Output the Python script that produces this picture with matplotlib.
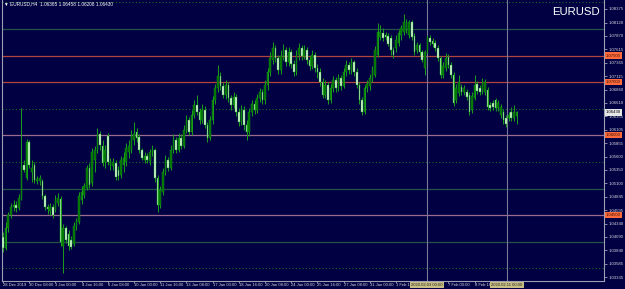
import matplotlib
matplotlib.use("Agg")
import matplotlib.pyplot as plt
import matplotlib.transforms as mtransforms

plt.rcParams['font.family'] = ['Liberation Sans', 'DejaVu Sans']

# EURUSD H4 bars
opens = [
    1.0408, 1.0388, 1.0425, 1.0450, 1.0465, 1.0469, 1.0463, 1.0482, 1.0544, 1.0519,
    1.0587, 1.0531, 1.0544, 1.0514, 1.0514, 1.0514, 1.0486, 1.0465, 1.0457, 1.0465,
    1.0459, 1.0472, 1.0480, 1.0392, 1.0425, 1.0414, 1.0403, 1.0395, 1.0429, 1.0437,
    1.0478, 1.0487, 1.0501, 1.0538, 1.0510, 1.0553, 1.0572, 1.0602, 1.0580, 1.0549,
    1.0598, 1.0544, 1.0542, 1.0548, 1.0534, 1.0525, 1.0544, 1.0549, 1.0568, 1.0572,
    1.0591, 1.0606, 1.0596, 1.0572, 1.0553, 1.0561, 1.0551, 1.0568, 1.0572, 1.0519,
    1.0469, 1.0493, 1.0531, 1.0553, 1.0538, 1.0572, 1.0591, 1.0572, 1.0595, 1.0580,
    1.0610, 1.0628, 1.0606, 1.0638, 1.0657, 1.0643, 1.0628, 1.0647, 1.0619, 1.0595,
    1.0628, 1.0666, 1.0689, 1.0711, 1.0692, 1.0675, 1.0694, 1.0670, 1.0657, 1.0672,
    1.0643, 1.0625, 1.0647, 1.0619, 1.0606, 1.0643, 1.0658, 1.0647, 1.0670, 1.0681,
    1.0666, 1.0694, 1.0719, 1.0741, 1.0764, 1.0745, 1.0722, 1.0749, 1.0760, 1.0737,
    1.0756, 1.0734, 1.0719, 1.0751, 1.0764, 1.0749, 1.0760, 1.0741, 1.0730, 1.0751,
    1.0726, 1.0719, 1.0700, 1.0675, 1.0694, 1.0666, 1.0689, 1.0704, 1.0689, 1.0707,
    1.0692, 1.0719, 1.0732, 1.0722, 1.0737, 1.0719, 1.0694, 1.0666, 1.0643, 1.0689,
    1.0692, 1.0707, 1.0713, 1.0751, 1.0784, 1.0792, 1.0788, 1.0786, 1.0783, 1.0760,
    1.0764, 1.0773, 1.0788, 1.0794, 1.0798, 1.0788, 1.0813, 1.0786, 1.0760, 1.0769,
    1.0756, 1.0726, 1.0760, 1.0783, 1.0777, 1.0773, 1.0764, 1.0745, 1.0713, 1.0726,
    1.0747, 1.0732, 1.0713, 1.0666, 1.0679, 1.0690, 1.0681, 1.0681, 1.0675, 1.0647,
    1.0670, 1.0696, 1.0689, 1.0681, 1.0681, 1.0685, 1.0657, 1.0660, 1.0666, 1.0651,
    1.0638, 1.0643, 1.0632, 1.0632, 1.0643, 1.0632, 1.06365]
highs = [
    1.0418, 1.0437, 1.0455, 1.0472, 1.0478, 1.0476, 1.0489, 1.0651, 1.0553, 1.0593,
    1.0591, 1.0553, 1.0549, 1.0523, 1.0525, 1.0518, 1.0489, 1.0471, 1.0472, 1.0471,
    1.0487, 1.0491, 1.0486, 1.0433, 1.0429, 1.0422, 1.0410, 1.0437, 1.0444, 1.0493,
    1.0504, 1.0510, 1.0544, 1.0548, 1.0576, 1.0580, 1.0613, 1.0608, 1.0591, 1.0581,
    1.0604, 1.0557, 1.0557, 1.0553, 1.0542, 1.0561, 1.0568, 1.0585, 1.0591, 1.0610,
    1.0625, 1.0613, 1.0602, 1.0576, 1.0568, 1.0566, 1.0574, 1.0581, 1.0576, 1.0525,
    1.0504, 1.0538, 1.0563, 1.0559, 1.0581, 1.0602, 1.0596, 1.0604, 1.0602, 1.0619,
    1.0638, 1.0634, 1.0647, 1.0666, 1.0675, 1.0651, 1.0658, 1.0655, 1.0625, 1.0636,
    1.0674, 1.0696, 1.0732, 1.0719, 1.0700, 1.0704, 1.0700, 1.0675, 1.0681, 1.0677,
    1.0651, 1.0657, 1.0655, 1.0628, 1.0651, 1.0666, 1.0666, 1.0677, 1.0689, 1.0687,
    1.0704, 1.0726, 1.0756, 1.0775, 1.0769, 1.0751, 1.0760, 1.0771, 1.0766, 1.0766,
    1.0762, 1.0741, 1.0760, 1.0773, 1.0769, 1.0769, 1.0766, 1.0749, 1.0760, 1.0756,
    1.0734, 1.0726, 1.0707, 1.0704, 1.0700, 1.0696, 1.0711, 1.0709, 1.0715, 1.0713,
    1.0726, 1.0741, 1.0737, 1.0745, 1.0741, 1.0726, 1.0700, 1.0672, 1.0694, 1.0704,
    1.0715, 1.0730, 1.0768, 1.0811, 1.0807, 1.0801, 1.0794, 1.0792, 1.0788, 1.0766,
    1.0788, 1.0798, 1.0807, 1.0828, 1.0818, 1.0816, 1.0816, 1.0792, 1.0775, 1.0773,
    1.0760, 1.0760, 1.0788, 1.0788, 1.0783, 1.0779, 1.0769, 1.0749, 1.0737, 1.0754,
    1.0752, 1.0737, 1.0719, 1.0696, 1.0713, 1.0696, 1.0694, 1.0687, 1.0681, 1.0681,
    1.0713, 1.0702, 1.0694, 1.0707, 1.0705, 1.0690, 1.0662, 1.0666, 1.0670, 1.0666,
    1.0658, 1.0649, 1.0638, 1.0643, 1.0653, 1.0657, 1.06458]
lows = [
    1.0380, 1.0384, 1.0418, 1.0444, 1.0457, 1.0455, 1.0459, 1.0478, 1.0531, 1.0516,
    1.0538, 1.0512, 1.0510, 1.0508, 1.0506, 1.0480, 1.0459, 1.0452, 1.0450, 1.0444,
    1.0455, 1.0467, 1.0392, 1.0341, 1.0397, 1.0384, 1.0386, 1.0392, 1.0422, 1.0433,
    1.0471, 1.0482, 1.0497, 1.0501, 1.0504, 1.0531, 1.0566, 1.0572, 1.0542, 1.0538,
    1.0544, 1.0534, 1.0534, 1.0516, 1.0516, 1.0519, 1.0531, 1.0542, 1.0557, 1.0566,
    1.0581, 1.0587, 1.0566, 1.0553, 1.0548, 1.0548, 1.0544, 1.0561, 1.0512, 1.0455,
    1.0463, 1.0487, 1.0525, 1.0533, 1.0534, 1.0566, 1.0566, 1.0568, 1.0574, 1.0576,
    1.0604, 1.0600, 1.0600, 1.0632, 1.0638, 1.0621, 1.0623, 1.0613, 1.0587, 1.0591,
    1.0621, 1.0658, 1.0681, 1.0685, 1.0670, 1.0668, 1.0662, 1.0647, 1.0651, 1.0636,
    1.0617, 1.0619, 1.0610, 1.0591, 1.0598, 1.0636, 1.0640, 1.0642, 1.0662, 1.0658,
    1.0658, 1.0685, 1.0711, 1.0734, 1.0737, 1.0715, 1.0715, 1.0741, 1.0730, 1.0730,
    1.0726, 1.0711, 1.0713, 1.0741, 1.0741, 1.0743, 1.0734, 1.0722, 1.0724, 1.0719,
    1.0707, 1.0692, 1.0670, 1.0670, 1.0658, 1.0660, 1.0681, 1.0681, 1.0683, 1.0685,
    1.0689, 1.0711, 1.0715, 1.0715, 1.0711, 1.0689, 1.0658, 1.0638, 1.0640, 1.0681,
    1.0685, 1.0700, 1.0709, 1.0747, 1.0779, 1.0777, 1.0779, 1.0768, 1.0751, 1.0745,
    1.0756, 1.0768, 1.0779, 1.0788, 1.0792, 1.0783, 1.0779, 1.0751, 1.0754, 1.0749,
    1.0737, 1.0713, 1.0754, 1.0769, 1.0766, 1.0758, 1.0739, 1.0707, 1.0707, 1.0720,
    1.0726, 1.0707, 1.0655, 1.0660, 1.0674, 1.0675, 1.0675, 1.0666, 1.0638, 1.0642,
    1.0666, 1.0677, 1.0675, 1.0677, 1.0675, 1.0647, 1.0645, 1.0647, 1.0645, 1.0645,
    1.0632, 1.0621, 1.0615, 1.0627, 1.0627, 1.0627, 1.06208]
closes = [
    1.0388, 1.0425, 1.0450, 1.0465, 1.0469, 1.0463, 1.0482, 1.0542, 1.0534, 1.0587,
    1.0544, 1.0538, 1.0516, 1.0518, 1.0519, 1.0486, 1.0465, 1.0461, 1.0465, 1.0450,
    1.0478, 1.0482, 1.0399, 1.0425, 1.0403, 1.0392, 1.0390, 1.0429, 1.0439, 1.0486,
    1.0493, 1.0504, 1.0538, 1.0506, 1.0568, 1.0572, 1.0602, 1.0581, 1.0548, 1.0572,
    1.0549, 1.0551, 1.0549, 1.0521, 1.0523, 1.0553, 1.0557, 1.0576, 1.0580, 1.0598,
    1.0602, 1.0595, 1.0572, 1.0557, 1.0561, 1.0553, 1.0568, 1.0572, 1.0519, 1.0469,
    1.0497, 1.0531, 1.0553, 1.0538, 1.0572, 1.0591, 1.0572, 1.0595, 1.0580, 1.0610,
    1.0628, 1.0606, 1.0638, 1.0657, 1.0643, 1.0628, 1.0647, 1.0619, 1.0595, 1.0628,
    1.0666, 1.0689, 1.0711, 1.0692, 1.0675, 1.0694, 1.0670, 1.0657, 1.0672, 1.0643,
    1.0625, 1.0647, 1.0619, 1.0606, 1.0643, 1.0658, 1.0647, 1.0670, 1.0681, 1.0666,
    1.0694, 1.0719, 1.0745, 1.0764, 1.0745, 1.0722, 1.0749, 1.0760, 1.0737, 1.0756,
    1.0734, 1.0719, 1.0751, 1.0764, 1.0749, 1.0760, 1.0741, 1.0730, 1.0751, 1.0726,
    1.0719, 1.0700, 1.0675, 1.0694, 1.0666, 1.0689, 1.0704, 1.0689, 1.0707, 1.0692,
    1.0719, 1.0732, 1.0722, 1.0737, 1.0719, 1.0694, 1.0666, 1.0643, 1.0689, 1.0696,
    1.0707, 1.0722, 1.0760, 1.0794, 1.0794, 1.0783, 1.0784, 1.0771, 1.0760, 1.0751,
    1.0779, 1.0792, 1.0801, 1.0813, 1.0813, 1.0813, 1.0784, 1.0756, 1.0769, 1.0756,
    1.0741, 1.0756, 1.0783, 1.0775, 1.0771, 1.0764, 1.0745, 1.0713, 1.0730, 1.0745,
    1.0732, 1.0713, 1.0660, 1.0689, 1.0700, 1.0681, 1.0689, 1.0672, 1.0643, 1.0674,
    1.0694, 1.0683, 1.0681, 1.0700, 1.0700, 1.0653, 1.0651, 1.0653, 1.0651, 1.0660,
    1.0653, 1.0628, 1.0621, 1.0638, 1.0632, 1.0643, 1.06430]

# price scale labels
price_ticks = [1.08375, 1.08120, 1.07870, 1.07615, 1.07365, 1.07115, 1.06860,
               1.06610, 1.06355, 1.06105, 1.05855, 1.05600, 1.05350, 1.05100,
               1.04845, 1.04595, 1.04340, 1.04090, 1.03840, 1.03585, 1.03335]
# time labels, one every 10 bars ("" where a date box covers the label)
time_labels = ["28 Dec 2019", "30 Dec 08:00", "3 Jan 00:00", "4 Jan 16:00",
               "6 Jan 08:00", "10 Jan 00:00", "11 Jan 16:00", "13 Jan 08:00",
               "17 Jan 00:00", "18 Jan 16:00", "20 Jan 08:00", "24 Jan 00:00",
               "25 Jan 16:00", "27 Jan 08:00", "31 Jan 00:00", "1 Feb 16:00",
               "", "7 Feb 00:00", "8 Feb 16:00", ""]

# drawn levels
upper_red_levels = [1.0750, 1.0700]
lower_red_levels = [1.0600, 1.0450]
solid_levels = [1.0800, 1.0500, 1.0400]
dotted_levels = [1.0851, 1.0650, 1.0550, 1.0350]
vlines_at = [161.8, 192.4]
vline_labels = ["2020.02.03 00:00", "2020.02.11 00:00"]

BG = "#000042"
WICK = "#19a019"
BULL = "#006f00"
BEAR = "#dcfadc"
AXIS = "#a0a0b4"

fig = plt.figure(figsize=(6.25, 2.89), dpi=100)
fig.patch.set_facecolor(BG)
ax = fig.add_axes([2 / 625, 8 / 289, 602 / 625, 281 / 289])
ax.set_facecolor(BG)

for lv in solid_levels:
    ax.axhline(lv, color="#24504a", lw=0.9, zorder=1)
for lv in dotted_levels:
    ax.axhline(lv, color="#1d6a2a", lw=0.8, ls=(0, (1, 2)), zorder=1)
for lv in upper_red_levels:
    ax.axhline(lv, color="#b2443e", lw=0.9, zorder=1)
for lv in lower_red_levels:
    ax.axhline(lv, color="#9c6c90", lw=0.9, zorder=1)
for xv in vlines_at:
    ax.axvline(xv, color="#7a7a98", lw=0.8, zorder=1)

xs = list(range(len(closes)))
ax.vlines(xs, lows, highs, color=WICK, lw=0.7, zorder=2)
for x, o, c in zip(xs, opens, closes):
    bottom = min(o, c)
    h = max(abs(c - o), 0.00004)
    fill = BULL if c >= o else BEAR
    ax.bar(x, h, bottom=bottom, width=0.62, color=fill, edgecolor=WICK,
           linewidth=0.3, zorder=3)

ax.set_xlim(-0.4, 229.4)
ax.set_ylim(1.03261, 1.08544)

ax.spines["top"].set_visible(False)
for s in ["left", "right", "bottom"]:
    ax.spines[s].set_color(AXIS)
    ax.spines[s].set_linewidth(0.8)

ax.yaxis.tick_right()
ax.set_yticks(price_ticks)
ax.set_yticklabels([f"{p:.5f}" for p in price_ticks])
ax.tick_params(axis="y", colors=AXIS, labelcolor="#d8d8e0", length=1.8,
               width=0.6, labelsize=3.1, pad=1.2)
ax.set_xticks(list(range(0, 200, 10)))
ax.set_xticklabels(time_labels)
ax.tick_params(axis="x", colors=AXIS, labelcolor="#d8d8e0", length=1.2,
               width=0.6, labelsize=3.0, pad=0.4)
for t in ax.get_xticklabels():
    t.set_ha("left")

# highlighted date boxes under the vertical lines
trans = mtransforms.blended_transform_factory(ax.transData, ax.transAxes)
for xv, lab in zip(vlines_at, vline_labels):
    ax.text(xv, -0.006, lab, transform=trans, ha="center", va="top",
            fontsize=3.0, color="#202020", clip_on=False, zorder=5,
            bbox=dict(boxstyle="square,pad=0.25", fc="#c8bd84", ec="none"))

# price boxes on the scale
ytrans = mtransforms.blended_transform_factory(ax.transAxes, ax.transData)
for lv in upper_red_levels + lower_red_levels:
    ax.text(1.003, lv, f"{lv:.5f}", transform=ytrans, ha="left", va="center",
            fontsize=3.1, color="#3a1000", clip_on=False, zorder=5,
            bbox=dict(boxstyle="square,pad=0.25", fc="#ff6a3c", ec="none"))
ax.text(1.003, closes[-1], f"{closes[-1]:.5f}", transform=ytrans, ha="left",
        va="center", fontsize=3.1, color="#000000", clip_on=False, zorder=5,
        bbox=dict(boxstyle="square,pad=0.25", fc="#e6e6e6", ec="none"))

ax.text(0.993, 0.957, "EURUSD", transform=ax.transAxes, ha="right",
        va="center", fontsize=8.2, color="white")
ax.text(0.004, 0.988, "\u25bc EURUSD,H4  1.06365 1.06458 1.06208 1.06430",
        transform=ax.transAxes, ha="left", va="center", fontsize=3.4,
        color="white")

fig.savefig("out.png", dpi=100, facecolor=BG)
